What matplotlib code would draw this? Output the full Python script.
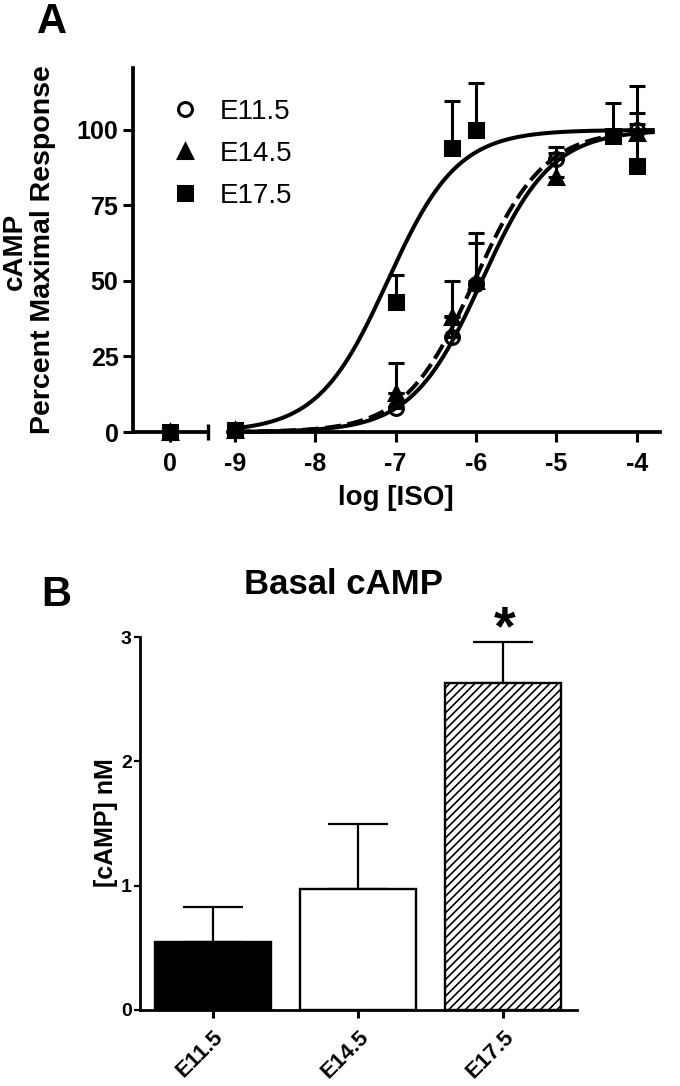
import numpy as np
import matplotlib
matplotlib.use('Agg')
import matplotlib.pyplot as plt
from matplotlib.lines import Line2D

plt.rcParams['font.family'] = ['Liberation Sans', 'DejaVu Sans']
plt.rcParams['font.weight'] = 'bold'
plt.rcParams['hatch.linewidth'] = 1.2

# ---------------- Panel A data ----------------
series_labels = ['E11.5', 'E14.5', 'E17.5']
basal_pct = [0.0, 0.0, 0.0]
basal_sem = [1.0, 1.0, 1.0]

e115_log = [-9, -7, -6.3, -6, -5, -4]
e115_pct = [0.5, 8, 31.5, 49, 90.5, 100]
e115_sem = [1, 5, 7, 13.5, 4, 14.5]

e145_log = [-9, -7, -6.3, -6, -5, -4]
e145_pct = [0.5, 13, 38, 50, 84.5, 99]
e145_sem = [1, 10, 12, 16, 8, 3]

e175_log = [-9, -7, -6.3, -6, -4.3, -4]
e175_pct = [0.5, 43, 94, 100, 98, 88]
e175_sem = [1, 9, 15.5, 15.5, 11, 17.6]

fit_logec50 = [-5.93, -6.02, -7.10]
fit_styles = ['-', (0, (4, 1.6)), '-']
fit_range = [-9.0, -3.8]

x_ticks_log = [-9, -8, -7, -6, -5, -4]
y_ticks_pct = [0, 25, 50, 75, 100]

# ---------------- Panel B data ----------------
bar_labels = ['E11.5', 'E14.5', 'E17.5']
basal_camp = [0.55, 0.97, 2.63]
basal_camp_sem = [0.28, 0.53, 0.33]
y_ticks_camp = [0, 1, 2, 3]

W, H = 680, 1086
fig = plt.figure(figsize=(W / 100, H / 100), dpi=100)


def fx(px):
    return px / W


def fy(py):
    return 1 - py / H


def rect(x0, y0, x1, y1):
    return [fx(x0), fy(y1), (x1 - x0) / W, (y1 - y0) / H]


SP = 2.7
ylimA = (0, 120.5)

axL = fig.add_axes(rect(133, 68, 208, 432))
axR = fig.add_axes(rect(228, 68, 660, 432))

for ax in (axL, axR):
    ax.set_ylim(*ylimA)
    ax.patch.set_alpha(0)
    for s in ('top', 'right'):
        ax.spines[s].set_visible(False)
    for s in ('left', 'bottom'):
        ax.spines[s].set_linewidth(SP)
    ax.tick_params(direction='out', length=7.5, width=2.2, labelsize=18, pad=7)

axL.set_xlim(-0.461, 0.474)
axR.set_xlim(-9.087, -3.71)
axR.spines['left'].set_visible(False)
axR.tick_params(axis='y', left=False, labelleft=False)
axL.set_xticks([0])
axL.set_xticklabels(['0'])
axL.set_yticks(y_ticks_pct)
axR.set_xticks(x_ticks_log)
axR.set_xticklabels([str(v) for v in x_ticks_log])
axL.tick_params(axis='y', pad=3)

# break cap at the end of left segment
axL.plot([1], [0], marker='|', ms=12, mew=2.4, color='k',
         transform=axL.transAxes, clip_on=False)

markers = ['o', '^', 's']
mfaces = ['none', 'k', 'k']
msizes = [10, 10, 9.5]
data = [(e115_log, e115_pct, e115_sem),
        (e145_log, e145_pct, e145_sem),
        (e175_log, e175_pct, e175_sem)]

xs = np.linspace(fit_range[0], fit_range[1], 400)
for i, (lx, ly, ls_) in enumerate(data):
    ec = fit_logec50[i]
    axR.plot(xs, 100 / (1 + 10 ** (ec - xs)), color='k', lw=2.9,
             linestyle=fit_styles[i], zorder=2, clip_on=False)
for i, (lx, ly, ls_) in enumerate(data):
    axR.errorbar(lx, ly, yerr=[np.zeros(len(ls_)), ls_], fmt='none', ecolor='k',
                 elinewidth=2.2, capsize=6, capthick=2.2, zorder=3)
    axR.plot(lx, ly, linestyle='none', marker=markers[i], ms=msizes[i],
             mfc=mfaces[i], mec='k', mew=2.2, zorder=4, clip_on=False)
    axL.errorbar([0], [basal_pct[i]], yerr=[[0], [basal_sem[i]]], fmt='none',
                 ecolor='k', elinewidth=2.2, capsize=6, capthick=2.2, zorder=3)
    axL.plot([0], [basal_pct[i]], linestyle='none', marker=markers[i], ms=msizes[i],
             mfc=mfaces[i], mec='k', mew=2.2, zorder=4, clip_on=False)

handles = [Line2D([], [], linestyle='none', marker=markers[i], ms=msizes[i],
                  mfc=mfaces[i], mec='k', mew=2.2) for i in range(3)]
fig.legend(handles, series_labels, loc='upper left',
           bbox_to_anchor=(fx(171), fy(99)), bbox_transform=fig.transFigure,
           frameon=False, prop={'size': 20, 'weight': 'normal'},
           handlelength=1.0, handletextpad=0.75, labelspacing=0.57, borderpad=0,
           borderaxespad=0)

fig.text(fx(396), fy(498), 'log [ISO]', ha='center', va='center', fontsize=20)
fig.text(fx(15), fy(251), 'cAMP', ha='center', va='center', rotation=90, fontsize=20)
fig.text(fx(43), fy(250), 'Percent Maximal Response', ha='center', va='center',
         rotation=90, fontsize=20.5)
fig.text(fx(37), fy(33), 'A', ha='left', va='baseline', fontsize=30)

# ---------------- Panel B ----------------
axB = fig.add_axes(rect(140, 637, 577, 1010))
pos = np.arange(len(bar_labels))
bars = axB.bar(pos, basal_camp, width=0.8, color=['black', 'white', 'white'],
               edgecolor='black', linewidth=1.7, zorder=2)
bars[2].set_hatch('////')
axB.errorbar(pos, basal_camp, yerr=[np.zeros(3), basal_camp_sem], fmt='none',
             ecolor='k', elinewidth=1.6, capsize=21.6, capthick=1.6, zorder=1)
axB.set_xlim(-0.5, 2.507)
axB.set_ylim(0, 3)
axB.set_yticks(y_ticks_camp)
axB.set_xticks(pos)
axB.set_xticklabels(bar_labels, rotation=45, ha='right', rotation_mode='anchor')
for s in ('top', 'right'):
    axB.spines[s].set_visible(False)
for s in ('left', 'bottom'):
    axB.spines[s].set_linewidth(2.0)
axB.tick_params(axis='y', direction='out', length=4.5, width=1.6, labelsize=14, pad=1.5)
axB.tick_params(axis='x', direction='out', length=6, width=2.2, labelsize=16, pad=6)

fig.text(fx(343), fy(584), 'Basal cAMP', ha='center', va='center', fontsize=25)
fig.text(fx(106), fy(823), '[cAMP] nM', ha='center', va='center', rotation=90, fontsize=18)
fig.text(fx(505), fy(630), '*', ha='center', va='center', fontsize=40)
fig.text(fx(41), fy(606), 'B', ha='left', va='baseline', fontsize=30)

fig.savefig('out.png', dpi=100)
